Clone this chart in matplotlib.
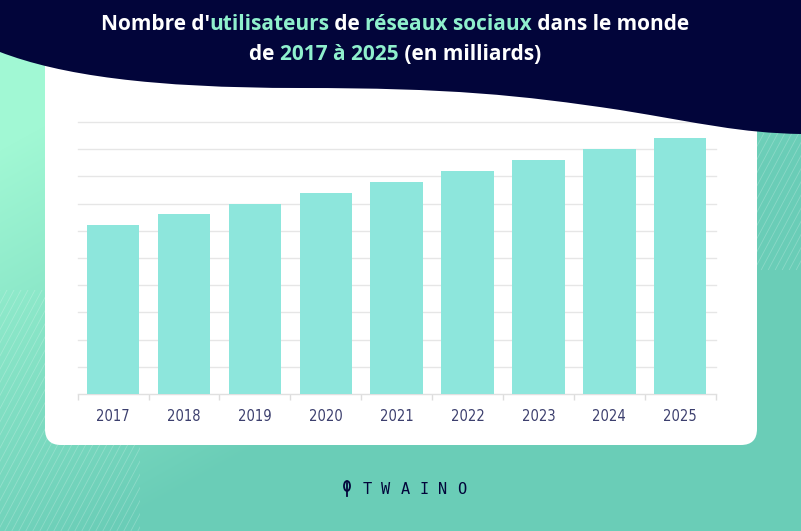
import matplotlib.pyplot as plt
import numpy as np
from matplotlib.patches import FancyBboxPatch, PathPatch, Rectangle, Ellipse
from matplotlib.path import Path
from matplotlib.colors import to_rgb

# data
years = ['2017', '2018', '2019', '2020', '2021', '2022', '2023', '2024', '2025']
users = [3.1, 3.3, 3.5, 3.7, 3.9, 4.1, 4.3, 4.5, 4.7]

title_line1 = [("Nombre d'", 'white'), ("utilisateurs", 'mint'), (" de ", 'white'),
               ("réseaux sociaux", 'mint'), (" dans le monde", 'white')]
title_line2 = [("de ", 'white'), ("2017 à 2025", 'mint'), (" (en milliards)", 'white')]

NAVY = '#02053a'
MINT = '#8ff0cd'
BAR = '#8de6dc'
TEAL = '#6acdb7'
LIGHT = '#a1f8d4'

W, H = 801, 531
fig = plt.figure(figsize=(W / 100, H / 100), dpi=100)

def pixel_axes():
    a = fig.add_axes([0, 0, 1, 1])
    a.set_xlim(0, W)
    a.set_ylim(H, 0)
    a.axis('off')
    a.set_facecolor('none')
    return a

# background layer
bg = pixel_axes()
xx, yy = np.meshgrid(np.arange(W), np.arange(H))
t = np.clip(xx / W * 1.0 + (yy - 150) / H * 1.2, 0, 1)[..., None]
grad = np.array(to_rgb(LIGHT)) * (1 - t) + np.array(to_rgb(TEAL)) * t
bg.imshow(grad, extent=[0, W, H, 0], aspect='auto', zorder=0)

# faint diagonal hatch lines
def hatch(x0, y0, x1, y1, step=7, alpha=0.22):
    clip = Rectangle((x0, y0), x1 - x0, y1 - y0, transform=bg.transData)
    dy = y1 - y0
    dx = dy / np.tan(np.radians(62))
    for c in np.arange(x0 - dx, x1 + step, step):
        ln, = bg.plot([c, c + dx], [y1, y0], color='white', lw=0.6, alpha=alpha, zorder=1)
        ln.set_clip_path(clip)

hatch(0, 290, 140, H)
hatch(757, 133, W, 270)

# white card
card = FancyBboxPatch((45, 40), 712, 405, boxstyle='round,pad=0,rounding_size=16',
                      facecolor='white', edgecolor='none', zorder=2)
bg.add_patch(card)

# logo
bg.add_patch(Ellipse((347, 486), 6, 10, facecolor='none', edgecolor=NAVY, lw=1.3, zorder=4))
bg.plot([347, 347], [483, 496], color=NAVY, lw=1.3, zorder=4)
for i, ch in enumerate('TWAINO'):
    bg.text(367 + i * 19, 489, ch, color=NAVY, fontsize=11, family='DejaVu Sans Mono',
            ha='center', va='center', zorder=4)

# bar chart
ax = fig.add_axes([77.7 / W, (H - 394) / H, 638 / W, 272 / H])
ax.set_facecolor('none')
x = np.arange(len(years))
ax.bar(x, users, width=0.74, color=BAR, zorder=3)
ax.set_xlim(-0.5, len(years) - 0.5)
ax.set_ylim(0, 5.0)
ax.set_yticks(np.arange(0.5, 5.01, 0.5))
ax.yaxis.grid(True, color='#e6e6e6', lw=1.0, zorder=0)
ax.tick_params(axis='y', left=False, labelleft=False)
for gl in ax.get_ygridlines():
    gl.set_clip_on(False)
ax.set_xticks(x)
ax.set_xticklabels(years, family='DejaVu Sans', stretch='condensed', fontsize=10.5,
                   color='#3c3f6e')
ax.tick_params(axis='x', length=0, pad=11)
ax.set_xticks(np.arange(-0.5, len(years), 1), minor=True)
ax.tick_params(axis='x', which='minor', length=4, color='#dddddd', width=1)
for s in ['top', 'right', 'left']:
    ax.spines[s].set_visible(False)
ax.spines['bottom'].set_color('#e0e0e0')
ax.spines['bottom'].set_linewidth(1.0)

# navy wave + title drawn over everything
top = pixel_axes()
verts = [(0, 52), (60, 75), (150, 88), (300, 88),
         (450, 88), (520, 95), (620, 110),
         (700, 123), (740, 133), (W, 134),
         (W, 0), (0, 0), (0, 52)]
codes = [Path.MOVETO] + [Path.CURVE4] * 9 + [Path.LINETO, Path.LINETO, Path.CLOSEPOLY]
top.add_patch(PathPatch(Path(verts, codes), facecolor=NAVY, edgecolor='none', zorder=3))

fig.canvas.draw()
renderer = fig.canvas.get_renderer()
title_font = dict(family='Open Sans', weight='bold', size=15)

def text_width(s):
    a = top.text(0, 0, s + '|', **title_font)
    b = top.text(0, 0, '|', **title_font)
    w = a.get_window_extent(renderer).width - b.get_window_extent(renderer).width
    a.remove()
    b.remove()
    return w

def draw_line(pieces, y):
    full = ''.join(p for p, _ in pieces)
    x0 = 395 - text_width(full) / 2
    prefix = ''
    for s, c in pieces:
        xp = x0 + text_width(prefix) if prefix else x0
        top.text(xp, y, s, color=MINT if c == 'mint' else 'white',
                 va='center', ha='left', zorder=4, **title_font)
        prefix += s

draw_line(title_line1, 24)
draw_line(title_line2, 54)

fig.savefig('out.png', dpi=100)
